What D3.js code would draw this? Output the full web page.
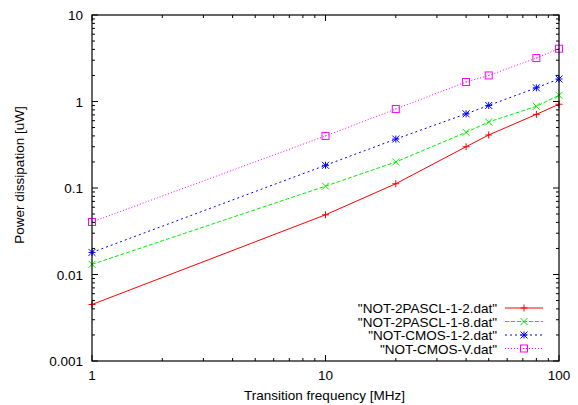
<!DOCTYPE html>
<html><head><meta charset="utf-8">
<script src="https://cdn.jsdelivr.net/npm/d3@7"></script>
<style>body{margin:0;background:#fff}svg{display:block}text{font-family:"Liberation Sans",Arial,sans-serif}</style>
</head><body><svg id="c" width="578" height="405"></svg>
<script>
const freqs = [1, 10, 20, 40, 50, 80, 100];
const pascl12 = [0.0045, 0.049, 0.112, 0.30, 0.41, 0.71, 0.93];
const pascl18 = [0.0131, 0.105, 0.20, 0.44, 0.58, 0.88, 1.18];
const cmos12 = [0.018, 0.183, 0.368, 0.72, 0.90, 1.44, 1.82];
const cmosV = [0.0405, 0.40, 0.82, 1.68, 2.0, 3.18, 4.08];
const seriesNames = ['"NOT-2PASCL-1-2.dat"', '"NOT-2PASCL-1-8.dat"', '"NOT-CMOS-1-2.dat"', '"NOT-CMOS-V.dat"'];
const xTicks = [1, 10, 100];
const yTicks = [0.001, 0.01, 0.1, 1, 10];

const series = [
  {name: seriesNames[0], vals: pascl12, color: "#ff0000", dash: null, marker: "plus"},
  {name: seriesNames[1], vals: pascl18, color: "#00ee00", dash: "4,2", marker: "cross"},
  {name: seriesNames[2], vals: cmos12, color: "#0000ff", dash: "2,3", marker: "star"},
  {name: seriesNames[3], vals: cmosV, color: "#ff00ff", dash: "1,2", marker: "square"}
];

const svg = d3.select("#c");
const L = 92, R = 559, T = 15, B = 361;
const FS = 13.5;
const x = d3.scaleLog().domain([1, 100]).range([L, R]);
const y = d3.scaleLog().domain([0.001, 10]).range([B, T]);

// ticks
const g = svg.append("g").attr("stroke", "#000").attr("stroke-width", 1);
const minorX = [];
for (let d = 1; d < 100; d *= 10) for (let k = 2; k <= 9; k++) minorX.push(d * k);
const minorY = [];
for (let d = 0.001; d < 9; d *= 10) for (let k = 2; k <= 9; k++) minorY.push(d * k);
xTicks.forEach(v => {
  g.append("line").attr("x1", x(v)).attr("x2", x(v)).attr("y1", B).attr("y2", B - 6);
  g.append("line").attr("x1", x(v)).attr("x2", x(v)).attr("y1", T).attr("y2", T + 6);
});
minorX.forEach(v => {
  g.append("line").attr("x1", x(v)).attr("x2", x(v)).attr("y1", B).attr("y2", B - 3);
  g.append("line").attr("x1", x(v)).attr("x2", x(v)).attr("y1", T).attr("y2", T + 3);
});
yTicks.forEach(v => {
  g.append("line").attr("x1", L).attr("x2", L + 6).attr("y1", y(v)).attr("y2", y(v));
  g.append("line").attr("x1", R).attr("x2", R - 6).attr("y1", y(v)).attr("y2", y(v));
});
minorY.forEach(v => {
  g.append("line").attr("x1", L).attr("x2", L + 3).attr("y1", y(v)).attr("y2", y(v));
  g.append("line").attr("x1", R).attr("x2", R - 3).attr("y1", y(v)).attr("y2", y(v));
});

// tick labels
xTicks.forEach(v => svg.append("text").attr("x", x(v)).attr("y", B + 19).attr("text-anchor", "middle")
  .attr("font-size", FS).text(v));
yTicks.forEach(v => svg.append("text").attr("x", L - 9).attr("y", y(v) + 5).attr("text-anchor", "end")
  .attr("font-size", FS).text(v));

svg.append("text").attr("x", (L + R) / 2 - 1).attr("y", 400).attr("text-anchor", "middle").attr("font-size", FS)
  .text("Transition frequency [MHz]");
svg.append("text").attr("transform", `translate(24,175) rotate(-90)`).attr("text-anchor", "middle")
  .attr("font-size", FS).text("Power dissipation [uW]");

function marker(sel, type, cx, cy, color) {
  const s = 3.5;
  const m = sel.append("g").attr("stroke", color).attr("stroke-width", 1).attr("fill", "none");
  if (type === "plus" || type === "star") {
    m.append("line").attr("x1", cx - s).attr("x2", cx + s).attr("y1", cy).attr("y2", cy);
    m.append("line").attr("x1", cx).attr("x2", cx).attr("y1", cy - s).attr("y2", cy + s);
  }
  if (type === "cross" || type === "star") {
    m.append("line").attr("x1", cx - s).attr("x2", cx + s).attr("y1", cy - s).attr("y2", cy + s);
    m.append("line").attr("x1", cx - s).attr("x2", cx + s).attr("y1", cy + s).attr("y2", cy - s);
  }
  if (type === "square") {
    m.append("rect").attr("x", cx - s).attr("y", cy - s).attr("width", 2 * s).attr("height", 2 * s);
    m.append("rect").attr("x", cx - 0.5).attr("y", cy - 0.5).attr("width", 1).attr("height", 1).attr("fill", color).attr("stroke", "none");
  }
}

const line = d3.line().x(d => x(d[0])).y(d => y(d[1]));
series.forEach(s => {
  const pts = freqs.map((f, i) => [f, s.vals[i]]);
  svg.append("path").attr("d", line(pts)).attr("fill", "none").attr("stroke", s.color)
    .attr("stroke-width", 1).attr("stroke-dasharray", s.dash);
  pts.forEach(p => marker(svg, s.marker, x(p[0]), y(p[1]), s.color));
});

// legend
const legY = [308, 321.5, 335, 348.5];
series.forEach((s, i) => {
  svg.append("text").attr("x", 497).attr("y", legY[i] + 5).attr("text-anchor", "end").attr("font-size", FS).text(s.name);
  svg.append("line").attr("x1", 505).attr("x2", 543).attr("y1", legY[i]).attr("y2", legY[i])
    .attr("stroke", s.color).attr("stroke-width", 1).attr("stroke-dasharray", s.dash);
  marker(svg, s.marker, 524, legY[i], s.color);
});

// frame
svg.append("rect").attr("x", L).attr("y", T).attr("width", R - L).attr("height", B - T)
  .attr("fill", "none").attr("stroke", "#000").attr("stroke-width", 1.2);
</script></body></html>
